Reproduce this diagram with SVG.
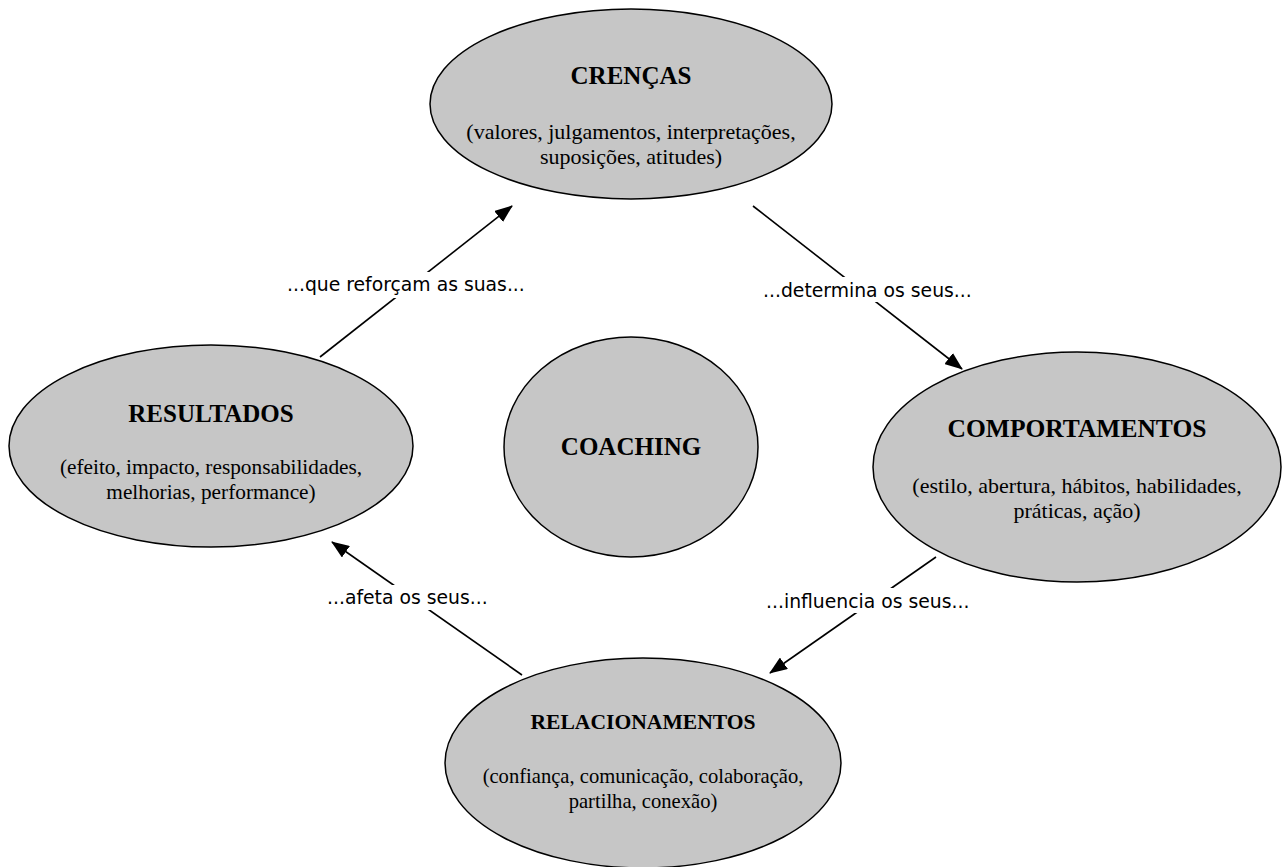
<svg xmlns="http://www.w3.org/2000/svg" width="1284" height="867" viewBox="0 0 1284 867">
<style>
.node{fill:#c6c6c6;stroke:#000;stroke-width:1.5}
.t{font-family:"Liberation Serif","Times New Roman",serif;font-weight:bold;font-size:25px;text-anchor:middle;fill:#000}
.s{font-family:"Liberation Serif","Times New Roman",serif;font-size:22px;text-anchor:middle;fill:#000}
.c{stroke:#000;stroke-width:1.6;fill:none}
.lbl{font-family:"DejaVu Sans",Verdana,sans-serif;font-size:18.8px;fill:#000}
.bg{fill:#fff}
</style>
<defs>
<marker id="arr" markerWidth="18" markerHeight="14" refX="17" refY="7" orient="auto" markerUnits="userSpaceOnUse">
<path d="M0,0 L18,7 L0,14 Z" fill="#000"/>
</marker>
</defs>
<rect width="1284" height="867" fill="#fff"/>
<g id="crencas">
<ellipse class="node" cx="631" cy="104" rx="201" ry="95"/>
<text class="t" x="631" y="84">CRENÇAS</text>
<text class="s" x="631" y="139">(valores, julgamentos, interpretações,</text>
<text class="s" x="631" y="164">suposições, atitudes)</text>
</g>
<g id="resultados">
<ellipse class="node" cx="211" cy="446" rx="202" ry="101"/>
<text class="t" x="211" y="422">RESULTADOS</text>
<text class="s" x="211" y="474" style="font-size:21.3px">(efeito, impacto, responsabilidades,</text>
<text class="s" x="211" y="499" style="font-size:21.3px">melhorias, performance)</text>
</g>
<g id="coaching">
<ellipse class="node" cx="631" cy="447" rx="127" ry="110"/>
<text class="t" x="631" y="455">COACHING</text>
</g>
<g id="comportamentos">
<ellipse class="node" cx="1077" cy="467" rx="204" ry="115"/>
<text class="t" x="1077" y="437" style="font-size:25.5px">COMPORTAMENTOS</text>
<text class="s" x="1077" y="493">(estilo, abertura, hábitos, habilidades,</text>
<text class="s" x="1077" y="518">práticas, ação)</text>
</g>
<g id="relacionamentos">
<ellipse class="node" cx="643" cy="763" rx="198" ry="105"/>
<text class="t" x="643" y="729" style="font-size:21.6px">RELACIONAMENTOS</text>
<text class="s" x="643" y="783" style="font-size:20.6px">(confiança, comunicação, colaboração,</text>
<text class="s" x="643" y="808" style="font-size:20.6px">partilha, conexão)</text>
</g>
<g id="connectors">
<line class="c" x1="320" y1="357" x2="512" y2="206" marker-end="url(#arr)"/>
<line class="c" x1="753" y1="206" x2="962" y2="369" marker-end="url(#arr)"/>
<line class="c" x1="936" y1="557" x2="770" y2="673" marker-end="url(#arr)"/>
<line class="c" x1="522" y1="675" x2="332" y2="542" marker-end="url(#arr)"/>
<rect class="bg" x="283" y="272" width="247" height="26"/>
<text class="lbl" x="287" y="291">...que reforçam as suas...</text>
<rect class="bg" x="759" y="277" width="215" height="25"/>
<text class="lbl" x="763" y="297">...determina os seus...</text>
<rect class="bg" x="762" y="588" width="210" height="25"/>
<text class="lbl" x="766" y="608">...influencia os seus...</text>
<rect class="bg" x="323" y="585" width="169" height="25"/>
<text class="lbl" x="327" y="604">...afeta os seus...</text>
</g>
</svg>
